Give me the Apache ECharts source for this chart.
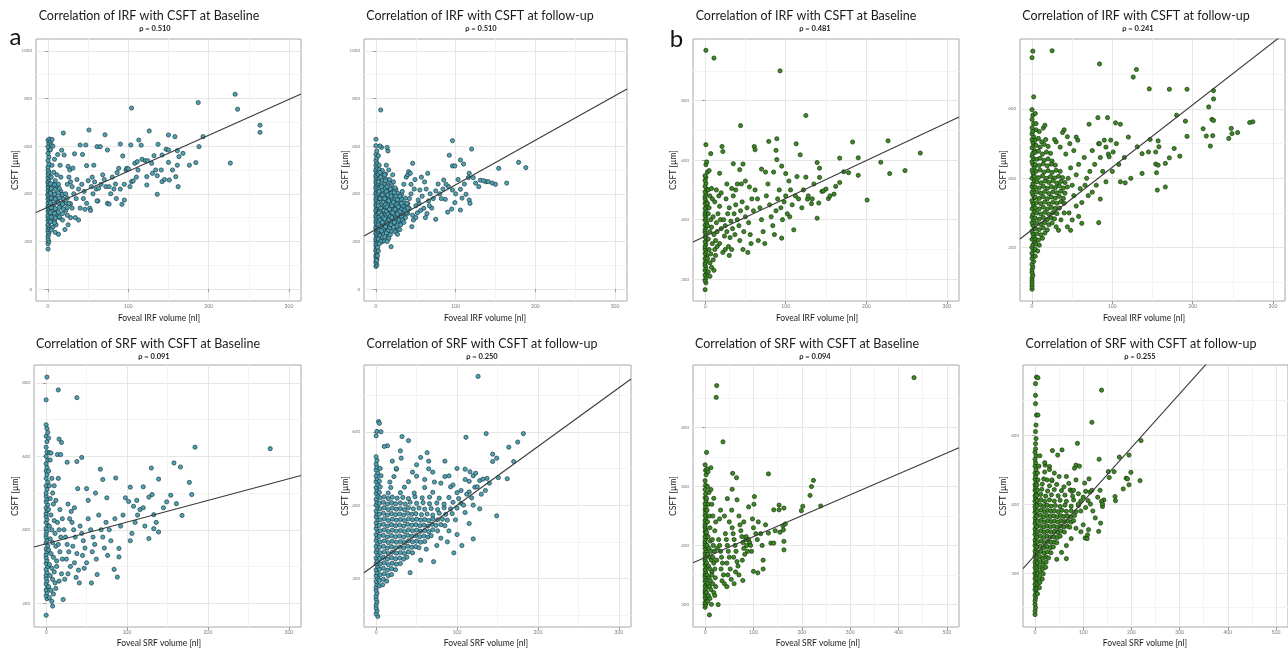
<!DOCTYPE html>
<html><head><meta charset="utf-8">
<script src="https://cdn.jsdelivr.net/npm/echarts@6/dist/echarts.min.js"></script>
<style>html,body{margin:0;padding:0;background:#fff}#c{width:1288px;height:653px}</style>
</head><body><div id="c"></div>
<script>
// ---------------- DATA ----------------
const panelTitles = ['Correlation of IRF with CSFT at Baseline','Correlation of IRF with CSFT at follow-up','Correlation of IRF with CSFT at Baseline','Correlation of IRF with CSFT at follow-up','Correlation of SRF with CSFT at Baseline','Correlation of SRF with CSFT at follow-up','Correlation of SRF with CSFT at Baseline','Correlation of SRF with CSFT at follow-up'];
const rhoValues = ['0.510','0.510','0.481','0.241','0.091','0.250','0.094','0.255'];
const xAxisNames = ['Foveal IRF volume [nl]','Foveal IRF volume [nl]','Foveal IRF volume [nl]','Foveal IRF volume [nl]','Foveal SRF volume [nl]','Foveal SRF volume [nl]','Foveal SRF volume [nl]','Foveal SRF volume [nl]'];
const yAxisName = 'CSFT [µm]';
const panelLetters = ['a','b'];

const xTicks300 = [0,100,200,300];
const xMinor300 = [50,150,250];
const xTicks500 = [0,100,200,300,400,500];
const xMinor500 = [50,150,250,350,450];
const yTicks1000 = [0,200,400,600,800,1000];
const yMinor1000 = [100,300,500,700,900];
const yTicks800 = [200,400,600,800];
const yMinor800 = [300,500,700,900];
const yTicks600 = [200,400,600];
const yMinor600 = [100,300,500,700];

// regression line end points [x, y]
const lineIrfBaseA = [[-15,322],[315,819]];
const lineIrfFollowA = [[-15,223],[315,840]];
const lineIrfBaseB = [[-15,325],[315,745]];
const lineIrfFollowB = [[-15,225],[315,819]];
const lineSrfBaseA = [[-15,353],[315,548]];
const lineSrfFollowA = [[-15,216],[315,744]];
const lineSrfBaseB = [[-25,341],[525,732]];
const lineSrfFollowB = [[-25,213],[525,1070]];

const irfBaseA = [
[0,168],[0,190],[1,200],[0,210],[0,222],[1,232],[0,240],[0,250],[1,258],[0,265],[0,272],[2,280],[0,288],[1,295],[0,302],[0,310],[2,318],[0,325],[1,332],[0,340],[0,348],[1,355],[0,362],[2,370],[0,378],[1,385],[0,392],[0,400],[1,408],[0,415],[2,422],[0,430],[1,438],[0,445],[0,452],[1,460],[0,468],[2,475],[0,483],[1,492],[0,500],[0,512],[1,525],[0,540],[1,555],[0,570],[1,585],[0,598],[1,612],[0,625],[2,630],
[3,620],[5,628],[4,605],[6,600],[3,585],[8,545],[5,520],[7,490],[4,470],[9,455],[6,440],[10,425],[3,410],[8,395],[5,380],[11,370],[6,355],[4,340],[9,330],[7,318],[12,305],[5,295],[8,285],[10,270],[6,260],[4,248],[9,238],[13,230],[14,300],[15,345],[12,380],[16,410],[13,440],[11,480],[15,520],[12,565],[17,583],[19,655],[16,470],[18,395],[20,360],[22,330],[18,290],[24,310],[25,270],[21,250],
[3,282],[8,278],[4,302],[9,298],[14,303],[3,322],[8,318],[13,323],[18,317],[4,342],[9,338],[14,343],[19,337],[24,342],[3,362],[8,358],[13,363],[18,357],[23,362],[28,358],[4,382],[9,378],[14,383],[19,377],[24,382],[3,402],[8,398],[13,403],[18,397],[4,422],[9,418],[14,423],[3,442],[8,438],
[20,563],[25,515],[27,500],[31,508],[33,568],[40,605],[43,565],[47,605],[48,518],[51,668],[61,598],[65,598],[71,648],[74,584],[28,450],[30,430],[32,400],[35,380],[38,420],[36,460],[42,440],[45,410],[44,380],[48,360],[52,340],[50,455],[54,430],[56,400],[58,450],[60,420],[62,370],[63,423],[66,440],[61,370],[40,340],[46,335],[53,330],[30,340],[28,300],[26,360],[34,300],[38,290],[22,400],[24,440],[26,470],[55,470],[57,520],[68,480],[70,460],[72,430],
[74,360],[76,357],[76,430],[84,441],[86,489],[88,507],[90,609],[93,559],[97,500],[98,507],[95,374],[92,356],[104,451],[106,454],[102,430],[80,470],[82,420],[78,400],[85,380],[90,420],[95,440],[100,505],[103,605],[104,760],[108,528],[110,470],[112,500],
[111,535],[113,626],[116,604],[117,545],[121,539],[124,539],[126,664],[129,528],[134,500],[136,476],[136,398],[141,500],[142,563],[147,587],[150,647],[150,532],[150,584],[151,458],[158,640],[159,472],[161,581],[161,520],[162,430],[163,556],[123,437],[123,472],[130,486],[142,451],[137,608],[176,520],[184,531],[187,783],[188,598],[193,640],[132,560],[145,460],[155,500],[168,570],
[227,529],[233,818],[236,755],[264,688],[264,658]
];

const irfFollowA = [
[0,95],[1,102],[0,110],[0,118],[1,126],[0,134],[0,142],[1,150],[0,158],[0,166],[1,174],[0,182],[0,190],[1,198],[0,206],[0,214],[1,222],[0,230],[0,238],[1,246],[0,254],[0,262],[1,270],[0,278],[0,286],[1,294],[0,302],[0,310],[1,318],[0,326],[0,334],[1,342],[0,350],[0,358],[1,366],[0,374],[0,382],[1,390],[0,398],[0,406],[1,414],[0,422],[0,430],[1,438],[0,446],[0,454],[1,462],[0,470],[0,478],[1,486],[0,494],[0,502],[1,510],[0,520],[1,530],[0,540],[1,550],[0,565],[1,580],
[3,203],[7,198],[10,202],[4,222],[8,218],[12,223],[3,242],[7,238],[11,243],[15,237],[19,242],[4,262],[8,258],[12,263],[16,257],[20,262],[24,258],
[3,282],[7,278],[11,283],[15,277],[19,282],[23,278],[27,283],[31,277],[4,302],[8,298],[12,303],[16,297],[20,302],[24,298],[28,303],[32,297],[36,302],
[3,322],[7,318],[11,323],[15,317],[19,322],[23,318],[27,323],[31,317],[35,322],[40,318],[4,342],[8,338],[12,343],[16,337],[20,342],[24,338],[28,343],[32,337],[36,342],[42,338],
[3,362],[7,358],[11,363],[15,357],[19,362],[23,358],[27,363],[31,357],[35,362],[40,358],[4,382],[8,378],[12,383],[16,377],[20,382],[24,378],[28,383],[32,377],[37,382],
[3,402],[7,398],[11,403],[15,397],[19,402],[23,398],[27,403],[32,397],[4,422],[8,418],[12,423],[16,417],[20,422],[25,418],[3,442],[7,438],[11,443],[15,437],[20,442],[4,462],[8,458],[12,463],[16,457],[3,482],[7,478],[12,483],[4,502],[8,498],
[3,560],[4,520],[5,490],[6,470],[3,450],[7,430],[4,410],[8,395],[5,380],[9,365],[3,350],[6,340],[10,330],[4,320],[7,310],[9,300],[5,290],[8,280],[3,270],[6,262],[10,255],[4,248],[7,240],[9,232],[5,225],[8,218],[3,210],[6,200],[4,190],[7,245],[2,175],[3,160],[2,140],[1,120],
[11,480],[12,455],[14,430],[13,410],[15,395],[11,380],[16,370],[12,355],[14,345],[17,335],[13,325],[15,315],[18,305],[11,295],[16,288],[14,278],[19,270],[12,262],[17,255],[15,245],[13,235],[18,228],[11,220],[16,212],[19,178],[14,200],[20,300],[20,350],[19,390],[18,420],[17,460],[16,500],[13,520],[15,580],[14,595],[7,595],[5,601],[6,752],[0,629],[0,602],
[21,480],[22,450],[24,425],[23,405],[25,390],[27,375],[22,365],[26,355],[28,345],[24,335],[30,325],[27,315],[32,305],[25,298],[29,290],[23,280],[31,270],[26,262],[28,250],[24,240],[34,350],[36,330],[38,320],[33,290],[35,280],[37,300],[30,390],[33,410],[35,440],[38,470],[40,480],[39,360],[40,340],[32,360],[21,320],[22,260],[27,230],[30,250],
[41,493],[43,486],[46,528],[45,262],[47,290],[42,380],[44,400],[48,420],[50,350],[52,320],[54,360],[53,374],[55,416],[58,390],[60,339],[61,450],[64,317],[65,486],[63,420],[66,370],[68,400],[70,340],[72,380],[75,293],[75,412],[78,441],[46,310],[50,300],[56,330],[62,300],[67,350],[44,440],[49,460],[57,470],
[85,458],[87,377],[90,323],[91,430],[92,562],[96,517],[96,416],[95,336],[99,517],[99,363],[96,623],[106,542],[106,419],[106,332],[108,382],[110,525],[111,441],[113,398],[116,468],[117,486],[117,374],[118,360],[120,588],[122,468],[129,430],[131,457],[138,451],[141,451],[146,445],[150,440],[154,507],[164,445],[179,532],[188,510],[80,400],[82,380],[84,420],[88,440],[100,400],[103,460],[125,445],[135,455]
];

const irfBaseB = [
[0,165],[1,188],[0,196],[1,205],[0,214],[2,222],[0,230],[1,238],[0,246],[0,254],[1,262],[0,270],[2,278],[0,286],[1,294],[0,302],[0,310],[1,318],[0,326],[2,334],[0,342],[1,350],[0,358],[0,366],[1,374],[0,382],[2,390],[0,398],[1,406],[0,414],[0,422],[1,430],[0,438],[2,446],[0,454],[1,462],[0,470],[0,478],[1,486],[0,494],[2,502],[0,512],[1,522],[0,532],[1,542],[0,548],[1,585],[2,594],[1,652],[1,969],
[3,560],[5,565],[7,622],[4,500],[6,480],[8,505],[3,455],[5,440],[9,470],[4,420],[7,400],[10,410],[3,380],[6,360],[8,375],[11,350],[4,335],[9,320],[5,300],[7,285],[12,300],[3,270],[6,255],[8,240],[4,225],[10,265],[13,330],[15,360],[14,390],[16,420],[18,445],[17,480],[12,460],[19,400],[20,370],[15,310],[11,230],[6,210],[13,280],[18,320],[20,490],[11,943],[21,646],[22,629],[18,556],[14,500],
[23,400],[25,380],[27,360],[24,345],[28,420],[30,440],[26,470],[32,395],[34,370],[31,340],[29,310],[33,300],[36,420],[38,450],[35,480],[40,400],[42,380],[37,350],[44,430],[46,460],[43,330],[48,360],[50,410],[47,300],[52,440],[54,390],[56,350],[58,470],[45,520],[50,530],[55,510],[60,430],[25,300],[30,280],[22,290],[35,588],[47,587],[43,568],[44,716],[40,520],[38,500],[53,290],[57,320],[27,520],[33,505],
[61,646],[62,635],[79,663],[89,672],[88,633],[89,602],[93,900],[62,500],[65,470],[68,440],[70,400],[72,360],[66,330],[74,320],[76,480],[78,520],[80,450],[82,410],[84,380],[86,350],[88,430],[90,470],[92,500],[94,440],[95,338],[96,400],[98,460],[100,480],[102,420],[104,530],[106,500],[108,450],[110,366],[112,480],[113,655],[114,545],[116,470],[118,618],[120,440],[122,500],[125,543],[125,750],[127,469],[70,570],[75,560],[85,560],[95,580],[100,555],[105,410],
[132,454],[139,592],[139,405],[141,456],[142,573],[142,542],[145,495],[147,497],[150,503],[153,471],[160,486],[162,512],[167,525],[167,607],[172,561],[178,558],[183,661],[190,608],[190,549],[201,466],[218,593],[227,665],[229,555],[248,565],[267,624],[135,520],[155,480],[128,480],[133,470]
];

const irfFollowB = [
[0,80],[0,88],[0,96],[0,104],[0,112],[1,120],[0,128],[0,136],[1,144],[0,152],[2,160],[0,168],[1,176],[0,184],[2,192],[0,200],[1,208],[3,216],[0,224],[2,232],[1,240],[0,248],[3,256],[1,264],[0,272],[2,280],[0,288],[1,296],[3,304],[0,312],[2,320],[1,328],[0,336],[3,344],[1,352],[0,360],[2,368],[0,376],[1,384],[3,392],[0,400],[2,408],[1,416],[0,424],[3,432],[1,440],[0,448],[2,456],[0,464],[1,472],[3,480],[0,488],[2,496],[1,504],[0,512],[2,520],[0,528],[1,536],[0,546],[2,558],[0,570],[1,582],[0,598],[2,635],[1,767],[0,748],[25,768],
[5,540],[9,535],[14,545],[4,510],[8,515],[12,505],[17,512],[5,495],[10,490],[15,498],[20,492],[4,475],[8,478],[13,470],[18,476],[23,472],[6,455],[10,458],[15,452],[20,456],[25,450],
[4,440],[9,437],[14,442],[19,436],[24,441],[29,438],[5,420],[10,424],[15,418],[20,422],[25,417],[30,423],[35,420],[3,405],[8,402],[13,407],[18,400],[23,405],[28,401],[33,406],[38,402],
[6,390],[11,387],[16,392],[21,388],[26,393],[31,386],[36,391],[41,388],[4,375],[9,372],[14,377],[19,371],[24,376],[29,373],[34,378],[39,372],[44,375],
[6,360],[11,357],[16,362],[21,356],[26,361],[31,358],[36,363],[41,357],[4,345],[9,342],[14,347],[19,341],[24,346],[29,343],[34,348],[39,342],
[6,330],[11,327],[16,332],[21,326],[26,331],[31,328],[36,333],[40,328],[4,315],[9,312],[14,317],[19,311],[24,316],[29,313],[34,314],
[6,300],[11,297],[16,302],[21,296],[26,301],[31,298],[4,285],[9,282],[14,287],[19,281],[24,286],[28,283],[6,270],[11,267],[16,272],[21,266],[25,271],
[4,255],[9,252],[14,257],[19,251],[6,240],[11,237],[16,242],[4,225],[8,222],[13,227],[5,210],[9,207],[4,195],[7,190],[4,175],
[45,400],[48,430],[50,380],[52,350],[55,410],[58,440],[60,370],[62,330],[65,460],[68,400],[70,350],[72,420],[75,480],[78,440],[80,380],[83,500],[85,460],[88,420],[90,510],[92,490],[95,470],[98,510],[101,476],[104,560],[105,500],[110,556],[110,390],[116,387],[120,519],[123,400],[46,300],[50,280],[55,320],[58,290],[62,270],[48,250],[42,470],[47,500],[52,480],[57,510],[44,520],[40,540],[35,490],[30,505],[28,512],[38,532],[55,519],[71,556],[82,575],[94,575],[83,272],[84,500],[96,462],[66,380],[75,360],[85,340],[92,390],[100,420],[108,440],[115,460],[36,280],[40,300],[44,260],[30,260],[16,553],[5,558],[4,587],[33,250],
[84,730],[130,714],[126,692],[146,658],[171,657],[193,657],[226,653],[226,629],[220,606],[180,582],[191,565],[224,570],[226,567],[213,543],[217,522],[225,523],[193,521],[248,544],[249,529],[245,515],[256,532],[271,561],[275,563],[222,493],[177,486],[184,464],[158,491],[157,508],[147,512],[154,476],[154,441],[157,438],[166,443],[171,459],[145,476],[137,471],[131,491],[137,414],[155,416],[156,366],[166,375]
];

const srfBaseA = [
[0,167],[1,212],[0,220],[1,228],[0,236],[2,244],[0,252],[1,260],[0,268],[0,276],[1,284],[0,292],[2,300],[0,308],[1,316],[0,324],[0,332],[1,340],[0,348],[2,356],[0,364],[1,372],[0,380],[0,388],[1,396],[0,404],[2,412],[0,420],[1,428],[0,436],[0,444],[1,452],[0,460],[2,468],[0,476],[1,484],[0,492],[0,500],[1,510],[0,520],[2,530],[0,540],[1,550],[0,560],[1,570],[0,580],[2,590],[0,600],[1,612],[0,625],[1,640],[0,655],[2,665],[1,676],[0,686],[0,754],[1,816],
[3,650],[4,610],[6,609],[5,590],[3,560],[7,540],[4,520],[8,500],[5,485],[9,470],[3,455],[6,440],[10,425],[4,410],[7,400],[11,390],[5,375],[8,365],[12,355],[3,345],[6,335],[9,325],[13,315],[4,305],[7,295],[10,285],[5,275],[8,265],[11,255],[3,245],[6,235],[9,225],[4,215],[7,205],[8,192],[14,605],[18,605],[16,647],[19,638],[15,781],[14,420],[16,400],[18,380],[15,360],[17,340],[20,320],[13,300],[19,280],[16,260],[21,210],[12,240],[20,430],[17,455],[12,480],[10,520],[15,540],
[26,584],[38,586],[44,597],[38,760],[22,400],[24,380],[26,360],[28,340],[25,320],[30,300],[27,280],[23,265],[32,420],[34,400],[36,380],[33,355],[38,335],[35,310],[40,290],[37,270],[41,255],[42,410],[44,390],[46,370],[48,350],[45,330],[50,310],[47,295],[39,512],[50,512],[52,480],[52,430],[55,400],[56,255],[58,380],[60,360],[57,340],[61,500],[62,320],[63,278],[65,440],[67,565],[68,400],[70,537],[70,380],[72,350],[75,487],[74,420],[76,330],[78,400],[80,370],[84,292],[85,430],[86,541],[88,271],[90,349],[90,326],[92,410],[95,440],[98,487],[29,430],[31,450],[27,470],[35,460],
[102,477],[104,516],[104,370],[108,464],[110,420],[113,440],[116,455],[120,517],[122,410],[127,489],[127,376],[130,568],[131,496],[133,441],[133,403],[136,420],[139,538],[139,394],[149,476],[154,494],[158,582],[161,471],[166,571],[168,439],[177,529],[180,496],[184,625],[277,621],[106,390],[112,480],[120,460],[145,460]
];

const srfFollowA = [
[2,97],[0,104],[1,112],[0,120],[0,128],[1,136],[0,144],[0,152],[1,160],[0,168],[0,176],[1,184],[0,192],[2,200],[0,208],[1,216],[0,224],[2,232],[0,240],[1,248],[0,256],[2,264],[0,272],[1,280],[0,288],[2,296],[0,304],[1,312],[0,320],[2,328],[0,336],[1,344],[0,352],[2,360],[0,368],[1,376],[0,384],[2,392],[0,400],[1,408],[0,416],[2,424],[0,432],[1,440],[0,448],[2,456],[0,464],[1,472],[0,480],[2,488],[0,496],[1,504],[0,512],[1,522],[0,532],[0,589],[1,601],[3,628],[4,623],
[4,180],[8,183],[4,195],[9,198],[13,193],[5,210],[10,213],[15,208],[19,211],[4,225],[9,228],[14,223],[19,227],[24,224],[5,240],[10,243],[15,238],[20,242],[25,239],[30,241],
[4,255],[9,258],[14,253],[19,257],[24,254],[29,256],[34,253],[38,258],[5,270],[10,273],[15,268],[20,272],[25,269],[30,271],[35,268],[40,273],[45,270],
[4,285],[9,288],[14,283],[19,287],[24,284],[29,286],[34,283],[39,288],[44,285],[49,287],[53,284],[5,300],[10,303],[15,298],[20,302],[25,299],[30,301],[35,298],[40,303],[45,300],[50,302],[55,299],[60,301],
[4,315],[9,318],[14,313],[19,317],[24,314],[29,316],[34,313],[39,318],[44,315],[49,317],[54,314],[59,316],[64,313],[68,317],
[5,330],[10,333],[15,328],[20,332],[25,329],[30,331],[35,328],[40,333],[45,330],[50,332],[55,329],[60,331],[65,328],[70,333],[76,330],
[4,345],[9,348],[14,343],[19,347],[24,344],[29,346],[34,343],[39,348],[44,345],[49,347],[54,344],[59,346],[64,343],[69,348],[74,345],[80,347],[85,344],
[5,360],[10,363],[15,358],[20,362],[25,359],[30,361],[35,358],[40,363],[45,360],[50,362],[55,359],[60,361],[65,358],[70,363],[76,360],[82,362],[88,359],
[4,375],[9,378],[14,373],[19,377],[24,374],[29,376],[34,373],[39,378],[44,375],[49,377],[56,374],[63,376],[70,373],[78,378],[86,375],[94,377],
[5,390],[10,393],[15,388],[20,392],[25,389],[30,391],[35,388],[40,393],[46,390],[53,392],[60,389],[68,391],[76,388],[84,393],[92,390],[100,392],
[4,405],[9,408],[14,403],[19,407],[24,404],[30,406],[36,403],[42,408],[50,405],[58,407],[66,404],[75,406],[84,403],[95,408],[105,405],
[5,420],[10,423],[15,418],[20,422],[26,419],[33,421],[40,418],[48,423],[57,420],[66,422],[78,419],[90,421],[102,418],
[4,435],[15,433],[30,434],[47,433],[70,435],[100,434],[115,436],
[5,450],[18,448],[35,449],[60,448],[92,450],[122,449],
[4,465],[17,463],[40,464],[72,463],[115,465],[128,467],
[6,480],[22,478],[50,479],[85,478],[120,480],[5,500],[25,498],[65,499],[110,498],
[126,751],[136,595],[182,595],[175,572],[111,585],[32,587],[40,576],[14,562],[30,548],[31,528],[63,543],[164,558],[144,539],[149,528],[144,519],[170,519],[162,472],[151,475],[149,371],[137,473],[132,471],[123,487],[116,491],[120,308],[96,270],[71,246],[42,216],[6,600],[10,560],[20,520],[50,510],[70,490],[90,480],[100,500],[110,470],[60,470],[80,460],[25,500],[45,490],[55,530],[65,520],[85,520],[95,455],[105,440],[112,430],[118,420],[125,450],[130,430],[108,400],[98,360],[90,330],[100,320],[80,310],[75,290],[62,280],[55,250],[110,380],[115,350],[120,400],[135,440],[140,460],[128,390],[106,290],[88,300]
];

const srfBaseB = [
[9,164],[0,190],[1,198],[0,206],[2,214],[0,222],[1,230],[0,238],[0,246],[1,254],[0,262],[2,270],[0,278],[1,286],[0,294],[0,302],[1,310],[0,318],[2,326],[0,334],[1,342],[0,350],[0,358],[1,366],[0,374],[2,382],[0,390],[1,398],[0,406],[0,414],[1,422],[0,430],[2,438],[0,446],[1,454],[0,462],[0,470],[1,478],[0,486],[2,494],[0,502],[1,512],[0,522],[1,532],[0,542],[2,552],[0,562],[1,575],[0,590],[1,605],[0,620],[2,640],[1,655],[0,674],[3,716],[12,664],
[4,660],[6,650],[5,600],[8,580],[3,560],[7,540],[4,520],[9,500],[5,480],[10,460],[3,445],[6,430],[11,415],[4,400],[8,390],[12,380],[5,370],[9,360],[13,350],[3,340],[7,330],[10,320],[14,310],[4,300],[8,290],[11,280],[6,270],[9,260],[12,250],[3,240],[7,230],[10,220],[5,210],[13,200],[15,420],[17,400],[19,380],[16,360],[18,340],[20,320],[14,300],[21,290],[16,270],[22,260],[18,240],[20,450],[22,480],[16,500],[14,540],[18,560],[12,590],[24,943],[23,903],[27,199],[20,230],[24,350],[25,390],
[37,752],[57,645],[65,630],[56,591],[46,559],[66,555],[102,566],[101,540],[90,531],[28,420],[30,400],[32,380],[34,360],[36,340],[33,320],[38,300],[35,280],[40,270],[42,440],[44,420],[46,400],[48,380],[50,360],[45,340],[52,320],[47,300],[54,285],[56,460],[58,440],[60,420],[62,400],[64,380],[59,360],[66,345],[68,330],[63,310],[70,300],[72,470],[74,450],[76,430],[78,410],[80,390],[82,370],[77,350],[84,420],[86,400],[88,380],[85,430],[90,420],[92,410],[94,400],[96,380],[78,281],[100,312],[109,307],[98,490],[100,460],[105,440],[108,420],[30,490],[40,500],[50,480],[32,520],[55,520],[70,500],[60,270],[45,260],[80,480],
[120,320],[131,643],[131,442],[136,408],[142,408],[142,521],[153,537],[153,521],[155,445],[161,467],[162,453],[163,527],[163,414],[163,385],[166,473],[199,518],[202,533],[217,570],[220,600],[224,621],[239,534],[432,970],[115,440],[118,400],[125,470],[110,480],[145,450],[120,350]
];

const srfFollowB = [
[0,80],[0,90],[1,100],[0,110],[0,120],[1,128],[0,136],[2,144],[0,152],[1,160],[0,168],[2,176],[0,184],[1,192],[0,200],[2,208],[0,216],[1,224],[0,232],[2,240],[0,248],[1,256],[0,264],[2,272],[0,280],[1,288],[0,296],[2,304],[0,312],[1,320],[0,328],[2,336],[0,344],[1,352],[0,360],[2,368],[0,376],[1,384],[0,392],[2,400],[0,408],[1,416],[0,424],[2,432],[0,440],[1,448],[0,456],[2,464],[0,472],[1,480],[0,490],[2,500],[0,510],[1,520],[0,530],[2,540],[0,550],[1,560],
[3,768],[6,766],[1,749],[1,715],[1,691],[3,658],[6,658],[2,629],[1,610],[2,590],[1,575],
[5,140],[4,155],[9,158],[5,170],[10,173],[4,185],[10,188],[15,183],[5,200],[11,203],[17,198],[4,215],[10,218],[16,213],[22,217],[5,230],[11,233],[17,228],[23,232],
[4,245],[10,248],[16,243],[22,247],[28,244],[5,260],[12,263],[19,258],[26,262],[33,259],[4,275],[11,278],[18,273],[25,277],[32,274],[38,276],
[5,290],[12,293],[19,288],[26,292],[33,289],[40,291],[45,288],[4,305],[11,308],[18,303],[25,307],[32,304],[39,306],[46,303],[52,307],
[5,320],[12,323],[19,318],[26,322],[33,319],[40,321],[47,318],[54,322],[61,319],
[4,335],[11,338],[18,333],[25,337],[32,334],[39,336],[46,333],[53,337],[60,334],[67,336],[72,333],
[5,350],[12,353],[19,348],[26,352],[33,349],[40,351],[47,348],[54,352],[61,349],[68,351],[75,348],[80,352],
[4,365],[11,368],[18,363],[25,367],[32,364],[39,366],[46,363],[53,367],[60,364],[67,366],[74,363],[82,367],
[5,380],[12,383],[19,378],[26,382],[33,379],[40,381],[48,378],[56,382],[65,379],[75,381],[85,378],
[4,395],[11,398],[18,393],[25,397],[33,394],[42,396],[52,393],[62,397],[75,394],[90,396],
[5,410],[12,413],[20,408],[30,412],[40,409],[52,411],[65,408],[80,412],[95,409],
[4,425],[12,428],[22,423],[34,427],[48,424],[62,426],[78,423],[5,440],[14,443],[26,438],[40,442],[55,439],
[4,455],[15,458],[30,453],[45,457],[6,470],[18,473],[35,468],[5,490],[20,493],[8,510],
[138,730],[118,637],[88,576],[133,530],[220,584],[195,542],[175,536],[189,475],[199,492],[192,473],[195,456],[218,468],[183,444],[164,494],[152,494],[154,477],[166,422],[167,410],[143,412],[138,408],[140,393],[136,345],[132,321],[104,302],[109,311],[111,326],[65,242],[36,555],[56,557],[47,542],[30,509],[21,513],[82,504],[85,513],[92,510],[73,441],[76,437],[103,461],[112,473],[105,437],[114,435],[65,480],
[90,400],[95,380],[100,420],[105,390],[110,410],[115,400],[120,380],[125,360],[100,340],[95,320],[108,300],[85,330],[75,300],[65,280],[55,260],[45,240],[60,450],[70,460],[80,440],[85,470],[50,480],[40,490],[30,500],[20,520],[10,540],[25,470],[35,470],[130,420],[135,440],[140,400],[118,440],[90,430]
];

// ---------------- LAYOUT ----------------
const panelData = [irfBaseA, irfFollowA, irfBaseB, irfFollowB, srfBaseA, srfFollowA, srfBaseB, srfFollowB];
const panelLines = [lineIrfBaseA, lineIrfFollowA, lineIrfBaseB, lineIrfFollowB, lineSrfBaseA, lineSrfFollowA, lineSrfBaseB, lineSrfFollowB];
const grids = [[36,39,265,262],[364,39,263,262],[693,39,266,262],[1020,39,265,262],[34,365,267,262],[364,365,267,262],[693,365,266,262],[1023,365,266,262]];
const xRanges = [[-15,315],[-15,315],[-15,315],[-15,315],[-15,315],[-15,315],[-25,525],[-25,525]];
const yRanges = [[-50,1050],[-50,1050],[127,1007],[46,802],[135,849],[68,782],[123,1013],[44,803]];
const xT = [xTicks300,xTicks300,xTicks300,xTicks300,xTicks300,xTicks300,xTicks500,xTicks500];
const xM = [xMinor300,xMinor300,xMinor300,xMinor300,xMinor300,xMinor300,xMinor500,xMinor500];
const yT = [yTicks1000,yTicks1000,yTicks800,yTicks600,yTicks800,yTicks600,yTicks800,yTicks600];
const yM = [yMinor1000,yMinor1000,yMinor800,yMinor600,yMinor800,yMinor600,yMinor800,yMinor600];
const isGreen = [false,false,true,true,false,false,true,true];
const titleX = [149,480,806,1136,148,482,807,1141];
const subX = [155,481,815,1138,154,482,815,1140];
const xNameX = [159,485,817,1144,159,486,818,1145];
const yNameX = [15,345,673,1003,15,345,673,1003];

const FONT = 'Lato, "Open Sans", sans-serif';
const chart = echarts.init(document.getElementById('c'), null, {renderer:'canvas'});
const plain = v => String(v);

const gridOpt = [], xAxes = [], yAxes = [], series = [], graphics = [];
for (let i = 0; i < 8; i++) {
  const g = grids[i];
  gridOpt.push({left:g[0], top:g[1], width:g[2], height:g[3], show:true, borderColor:'#a8a8a8', borderWidth:1, backgroundColor:'#fff'});
  const majorX = {gridIndex:i, type:'value', min:xRanges[i][0], max:xRanges[i][1], position:'bottom',
    axisLine:{show:false}, axisTick:{show:true, length:3, lineStyle:{color:'#9a9a9a'}, customValues:xT[i]},
    axisLabel:{show:true, customValues:xT[i], formatter:plain, fontSize:5, color:'#7a7a7a', margin:3, fontFamily:FONT},
    splitLine:{show:true, lineStyle:{color:'#e6e6e6', width:1}}};
  const minorX = {gridIndex:i, type:'value', min:xRanges[i][0], max:xRanges[i][1], position:'top',
    axisLine:{show:false}, axisTick:{show:false, customValues:xM[i]}, axisLabel:{show:false, customValues:xM[i]},
    splitLine:{show:true, lineStyle:{color:'#f4f4f4', width:1}}};
  const majorY = {gridIndex:i, type:'value', min:yRanges[i][0], max:yRanges[i][1], position:'left',
    axisLine:{show:false}, axisTick:{show:true, length:3, lineStyle:{color:'#9a9a9a'}, customValues:yT[i]},
    axisLabel:{show:true, customValues:yT[i], formatter:plain, fontSize:4.5, color:'#7a7a7a', margin:4, fontFamily:FONT},
    splitLine:{show:true, lineStyle:{color:'#e6e6e6', width:1}}};
  const minorY = {gridIndex:i, type:'value', min:yRanges[i][0], max:yRanges[i][1], position:'right',
    axisLine:{show:false}, axisTick:{show:false, customValues:yM[i]}, axisLabel:{show:false, customValues:yM[i]},
    splitLine:{show:true, lineStyle:{color:'#f4f4f4', width:1}}};
  xAxes.push(minorX, majorX);
  yAxes.push(minorY, majorY);
  const xi = 2*i+1, yi = 2*i+1;
  series.push({type:'scatter', xAxisIndex:xi, yAxisIndex:yi, data:panelData[i], symbolSize:4.2, z:3,
    itemStyle: isGreen[i] ? {color:'#3c8a24', borderColor:'#16330c', borderWidth:0.7, opacity:1}
                          : {color:'#4fa3b3', borderColor:'#1b3a42', borderWidth:0.7, opacity:1},
    emphasis:{disabled:true}});
  series.push({type:'line', xAxisIndex:xi, yAxisIndex:yi, data:panelLines[i], symbol:'none', clip:true, z:4,
    lineStyle:{color:'#3a3a3a', width:1.1}, emphasis:{disabled:true}});
  const top = g[1] < 200;
  graphics.push({type:'text', x:titleX[i], y: top ? 15.5 : 343.5, style:{text:panelTitles[i], align:'center', verticalAlign:'middle', fontSize:12.5, fontFamily:FONT, fill:'#1a1a1a'}});
  graphics.push({type:'text', x:subX[i], y: top ? 29 : 356.5, style:{text:'ρ = ' + rhoValues[i], align:'center', verticalAlign:'middle', fontSize:7.5, fontWeight:'bold', fontFamily:FONT, fill:'#1a1a1a'}});
  graphics.push({type:'text', x:xNameX[i], y: top ? 318 : 643.5, style:{text:xAxisNames[i], align:'center', verticalAlign:'middle', fontSize:8.5, fontFamily:FONT, fill:'#1a1a1a'}});
  graphics.push({type:'text', x:yNameX[i], y: top ? 170 : 496, rotation:Math.PI/2, style:{text:yAxisName, align:'center', verticalAlign:'middle', fontSize:8.5, fontFamily:FONT, fill:'#1a1a1a'}});
}
graphics.push({type:'text', x:15.5, y:37, style:{text:panelLetters[0], align:'center', verticalAlign:'middle', fontSize:24, fontFamily:FONT, fill:'#111'}});
graphics.push({type:'text', x:676.5, y:39, style:{text:panelLetters[1], align:'center', verticalAlign:'middle', fontSize:24, fontFamily:FONT, fill:'#111'}});

chart.setOption({
  animation:false,
  backgroundColor:'#ffffff',
  grid:gridOpt, xAxis:xAxes, yAxis:yAxes, series:series, graphic:graphics
});
</script></body></html>
